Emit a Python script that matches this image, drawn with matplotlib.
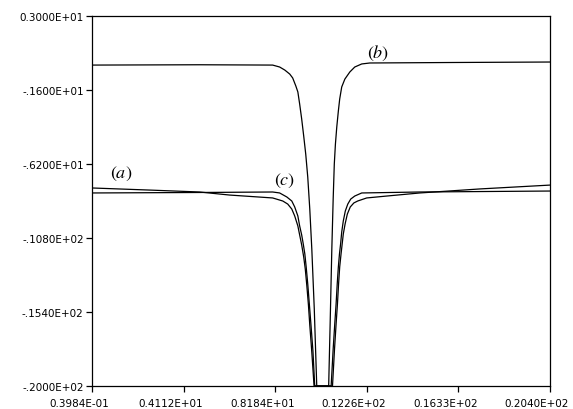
import numpy as np
import matplotlib
matplotlib.use('Agg')
import matplotlib.pyplot as plt
from matplotlib import ticker
from matplotlib.transforms import ScaledTranslation

plt.rcParams['mathtext.fontset'] = 'stix'

# Curve (b): deep notch, flat near 0 elsewhere
bx = [0.04, 4.82, 8.07, 8.38, 8.61, 8.83, 8.96, 9.10, 9.19, 9.27, 9.36, 9.45,
      9.54, 9.63, 9.72, 9.81, 9.92, 10.03,
      10.56, 10.63, 10.70, 10.76, 10.81, 10.86, 10.92, 10.99, 11.05, 11.14,
      11.28, 11.50, 11.72, 12.03, 12.39, 16.00, 20.40]
by = [-0.05, -0.03, -0.05, -0.17, -0.36, -0.61, -0.85, -1.35, -1.72, -2.47,
      -3.40, -4.46, -5.58, -7.01, -9.00, -11.48, -15.21, -20.0,
      -20.0, -15.84, -11.48, -8.38, -6.20, -4.96, -3.90, -2.91, -2.16, -1.41,
      -0.92, -0.48, -0.17, 0.02, 0.08, 0.11, 0.14]

# Curve (a): sloped baseline with notch
ax_ = [0.04, 2.60, 4.82, 6.16, 8.07, 8.52, 8.74, 8.92, 9.05, 9.19, 9.27, 9.36,
       9.45, 9.52, 9.59, 9.66, 9.72, 9.81, 9.91,
       10.73, 10.82, 10.89, 10.95, 11.00, 11.05, 11.11, 11.16, 11.21, 11.29,
       11.39, 11.52, 11.68, 11.85, 12.25, 13.15, 14.61, 17.28, 20.40]
ay = [-7.69, -7.82, -7.94, -8.13, -8.31, -8.50, -8.69, -9.00, -9.43, -10.05,
      -10.61, -11.23, -11.98, -12.73, -13.78, -14.96, -16.21, -17.89, -20.0,
      -20.0, -17.70, -16.15, -14.90, -13.66, -12.60, -11.79, -11.17, -10.55,
      -9.93, -9.31, -8.87, -8.62, -8.50, -8.31, -8.19, -8.00, -7.75, -7.51]

# Curve (c): flat baseline with notch
cx = [0.04, 4.82, 8.07, 8.38, 8.70, 8.92, 9.05, 9.19, 9.27, 9.36, 9.43, 9.50,
      9.56, 9.63, 9.70, 9.77, 9.86, 9.94,
      10.67, 10.76, 10.83, 10.89, 10.94, 10.99, 11.04, 11.09, 11.14, 11.21,
      11.30, 11.41, 11.54, 11.72, 12.03, 14.61, 20.40]
cy = [-8.00, -7.97, -7.94, -8.00, -8.25, -8.50, -8.87, -9.43, -10.05, -10.61,
      -11.17, -11.79, -12.60, -13.66, -14.90, -16.15, -17.82, -20.0,
      -20.0, -17.70, -16.15, -14.90, -13.66, -12.60, -11.79, -11.17, -10.43,
      -9.74, -9.12, -8.69, -8.38, -8.19, -8.00, -7.94, -7.88]

xticks = [0.03984, 4.112, 8.184, 12.26, 16.33, 20.40]
xlabels = ['0.3984E-01', '0.4112E+01', '0.8184E+01', '0.1226E+02',
           '0.1633E+02', '0.2040E+02']
yticks = [3.0, -1.6, -6.2, -10.8, -15.4, -20.0]
ylabels = ['0.3000E+01', '-.1600E+01', '-.6200E+01', '-.1080E+02',
           '-.1540E+02', '-.2000E+02']

fig = plt.figure(figsize=(5.73, 4.10), dpi=100)
ax = fig.add_axes([0.1606, 0.0561, 0.7993, 0.9024])

lw = 0.9
ax.plot(bx, by, color='black', linewidth=lw)
ax.plot(ax_, ay, color='black', linewidth=lw)
ax.plot(cx, cy, color='black', linewidth=lw)

ax.set_xlim(0.03984, 20.40)
ax.set_ylim(-20.0, 3.0)

ax.xaxis.set_major_locator(ticker.FixedLocator(xticks))
ax.xaxis.set_major_formatter(ticker.FixedFormatter(xlabels))
ax.yaxis.set_major_locator(ticker.FixedLocator(yticks))
ax.yaxis.set_major_formatter(ticker.FixedFormatter(ylabels))
ax.tick_params(axis='x', direction='out', length=4, width=0.9, pad=5,
               labelsize=7.5)
ax.tick_params(axis='y', direction='out', length=4, width=0.9, pad=2,
               labelsize=7.5)
for s in ax.spines.values():
    s.set_linewidth(0.9)

# x labels sit a bit left of their ticks in the original
shift = ScaledTranslation(-0.13, 0, fig.dpi_scale_trans)
for lab in ax.get_xticklabels():
    lab.set_transform(lab.get_transform() + shift)

ax.text(1.35, -6.76, '$(a)$', fontsize=13, ha='center', va='center')
ax.text(12.74, 0.76, '$(b)$', fontsize=13, ha='center', va='center')
ax.text(8.61, -7.19, '$(c)$', fontsize=13, ha='center', va='center')

fig.savefig('out.png', dpi=100)
